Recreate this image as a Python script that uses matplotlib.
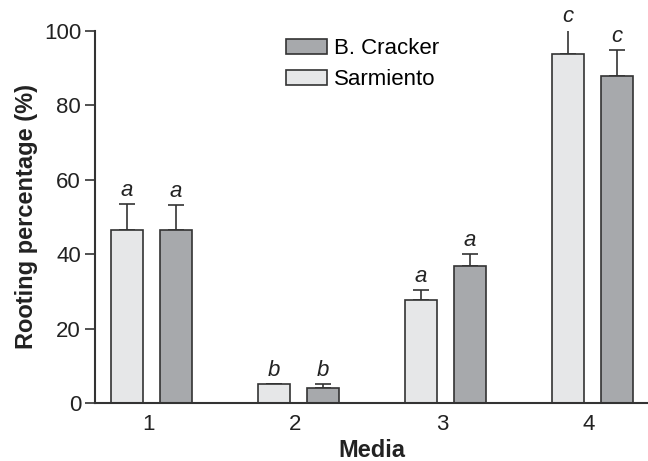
import numpy as np
import matplotlib.pyplot as plt
from matplotlib.patches import Patch

plt.rcParams['font.family'] = ['Liberation Sans', 'DejaVu Sans']

media = [1, 2, 3, 4]
sarmiento = [46.5, 5.0, 27.6, 93.7]
sarmiento_err = [7.0, 0.0, 2.7, 6.7]
cracker = [46.5, 4.0, 36.7, 87.8]
cracker_err = [6.8, 1.0, 3.3, 7.1]
sarmiento_letters = ['a', 'b', 'a', 'c']
cracker_letters = ['a', 'b', 'a', 'c']

light = '#e6e7e8'
dark = '#a7a9ac'
edge = '#333333'

fig = plt.figure(figsize=(6.48, 4.61), dpi=100)
ax = fig.add_axes([0.1466, 0.1258, 0.8534, 0.807])

x = np.array(media, dtype=float)
w = 0.22
xs = x - 0.143
xc = x + 0.19

ax.bar(xs, sarmiento, w, color=light, edgecolor=edge, linewidth=1.2, zorder=2)
ax.bar(xc, cracker, w, color=dark, edgecolor=edge, linewidth=1.2, zorder=2)
ax.errorbar(xs, sarmiento, yerr=[np.zeros(4), sarmiento_err], fmt='none',
            ecolor=edge, elinewidth=1.2, capsize=5.8, capthick=1.2, zorder=1)
ax.errorbar(xc, cracker, yerr=[np.zeros(4), cracker_err], fmt='none',
            ecolor=edge, elinewidth=1.2, capsize=5.8, capthick=1.2, zorder=1)

for xi, v, e, t in zip(xs, sarmiento, sarmiento_err, sarmiento_letters):
    ax.text(xi, v + e + 0.8, t, ha='center', va='bottom', style='italic', fontsize=16, color='#222222')
for xi, v, e, t in zip(xc, cracker, cracker_err, cracker_letters):
    ax.text(xi, v + e + 0.8, t, ha='center', va='bottom', style='italic', fontsize=16, color='#222222')

ax.set_xlim(0.639, 4.40)
ax.set_ylim(0, 100)
ax.set_yticks([0, 20, 40, 60, 80, 100])
ax.set_xticks(media)
ax.tick_params(axis='x', length=0, labelsize=16, pad=8, colors='#222222')
ax.tick_params(axis='y', length=7, width=1.2, labelsize=16, pad=3, colors='#222222', color=edge)
for s in ['top', 'right']:
    ax.spines[s].set_visible(False)
for s in ['left', 'bottom']:
    ax.spines[s].set_color(edge)
    ax.spines[s].set_linewidth(1.5)

ax.set_ylabel('Rooting percentage (%)', fontsize=17, fontweight='bold', color='#222222', labelpad=4)
ax.set_xlabel('Media', fontsize=17, fontweight='bold', color='#222222', labelpad=3)

handles = [Patch(facecolor=dark, edgecolor=edge, linewidth=1.2),
           Patch(facecolor=light, edgecolor=edge, linewidth=1.2)]
ax.legend(handles, ['B. Cracker', 'Sarmiento'], loc='upper left',
          bbox_to_anchor=(286 / 648, 1 - 38 / 461), bbox_transform=fig.transFigure,
          frameon=False, fontsize=16, handlelength=1.85, handleheight=0.68,
          handletextpad=0.3, labelspacing=0.45, borderpad=0, borderaxespad=0)

fig.savefig('out.png', dpi=100)
